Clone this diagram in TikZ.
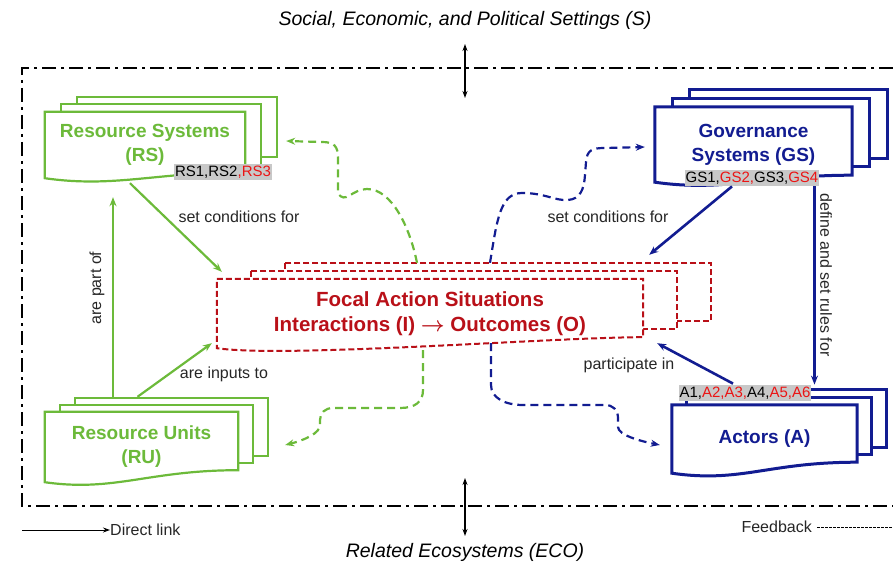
\documentclass[tikz,border=0pt]{standalone}
\usepackage{fontspec}
\setmainfont{Liberation Sans}
\usetikzlibrary{arrows.meta,calc,backgrounds}

\definecolor{sesgreen}{RGB}{108,186,58}
\definecolor{sesblue}{RGB}{18,28,145}
\definecolor{sesred}{RGB}{185,16,24}
\definecolor{tagred}{RGB}{235,20,20}
\definecolor{taggray}{RGB}{200,200,200}

\newcommand{\boxfont}{\fontsize{19}{24}\selectfont\bfseries}
\newcommand{\focalfont}{\fontsize{20.5}{25}\selectfont\bfseries}
\newcommand{\linkfont}{\fontsize{16}{18}\selectfont}
\newcommand{\tagfont}{\fontsize{15}{17}\selectfont}
\newcommand{\setfont}{\fontsize{19.5}{21}\selectfont\itshape}

% stack of three sheets behind a named node: name, style, dx, dy, rise
\newcommand{\docstack}[5]{%
  \begin{pgfonlayer}{background}
    \foreach \i in {2,1}
      \draw[#2] ($(#1.north west)+(\i*#3,-\i*#4)$) rectangle ($(#1.south east)+(\i*#3,-#5-\i*#4)$);
    \draw[#2] (#1.north west) -- (#1.north east) -- ($(#1.south east)+(0,-#5)$)
      .. controls +(-90,0) and +(70,10) .. (#1.south west) -- cycle;
  \end{pgfonlayer}}

\begin{document}
\begin{tikzpicture}[x=1pt, y=-1pt, >={Stealth[length=9pt,width=7pt]},
  every node/.style={inner sep=0pt},
  link/.style={->, line width=2.2pt},
  greenlink/.style={link, draw=sesgreen},
  bluelink/.style={link, draw=sesblue, line width=2.6pt},
  fback/.style={->, line width=2.2pt, dash pattern=on 8pt off 5pt},
  greenstack/.style={draw=sesgreen, line width=2.2pt, fill=white},
  bluestack/.style={draw=sesblue, line width=3pt, fill=white},
  focalstack/.style={draw=sesred, line width=2pt, dash pattern=on 6pt off 3pt, fill=white},
  boxtext/.style={align=center, font=\boxfont},
  tag/.style={fill=taggray, font=\tagfont, inner xsep=1pt, inner ysep=2pt},
  lbl/.style={font=\linkfont, text=black!85},
]
  \useasboundingbox (0,0) rectangle (893,564);

  % outer settings
  \node[font=\setfont] (soc) at (465,20) {Social, Economic, and Political Settings (S)};
  \node[font=\setfont] (eco) at (465,552) {Related Ecosystems (ECO)};
  \coordinate (soctop) at (465,44);
  \coordinate (socbot) at (465,98);
  \coordinate (ecotop) at (465,478);
  \coordinate (ecobot) at (465,536);
  \draw[{Stealth[length=7pt,width=5pt]}-{Stealth[length=7pt,width=5pt]}, line width=1.2pt] (soctop) -- (socbot);
  \draw[{Stealth[length=7pt,width=5pt]}-{Stealth[length=7pt,width=5pt]}, line width=1.2pt] (ecotop) -- (ecobot);
  \draw[line width=2.8pt, dash pattern=on 14pt off 5pt on 3pt off 5pt] (893,68) -| (22,506) -- (893,506);

  % sheets
  \node[boxtext, text=sesgreen, minimum width=200pt, minimum height=66pt] (rs) at (145,145) {Resource Systems\\(RS)};
  \node[boxtext, text=sesblue, minimum width=197pt, minimum height=75pt] (gs) at (753.5,144.5) {Governance\\Systems (GS)};
  \node[boxtext, text=sesgreen, minimum width=193pt, minimum height=70pt] (ru) at (141.5,447) {Resource Units\\(RU)};
  \node[boxtext, text=sesblue, minimum width=185pt, minimum height=68pt] (act) at (764.5,439) {Actors (A)};
  \node[boxtext, font=\focalfont, text=sesred, minimum width=426pt, minimum height=69pt] (focal) at (430,313.5) {Focal Action Situations\\Interactions (I) {\boldmath$\rightarrow$} Outcomes (O)};

  \docstack{rs}{greenstack}{16}{7.5}{6}
  \docstack{gs}{bluestack}{17.5}{8.5}{7}
  \docstack{ru}{greenstack}{15}{7}{12}
  \docstack{act}{bluestack}{14.5}{7.5}{11}
  \docstack{focal}{focalstack}{34}{8}{11}

  % variables
  \node[tag] (rstag) at (223,172) {RS1,RS2\textcolor{tagred}{,RS3}};
  \node[tag] (gstag) at (752,178) {GS1,\textcolor{tagred}{GS2,}GS3,\textcolor{tagred}{GS4}};
  \node[tag] (atag) at (745,393) {A1,\textcolor{tagred}{A2,A3,}A4,\textcolor{tagred}{A5,A6}};

  % direct links
  \coordinate (gsdown) at ($(gstag.south east)+(-5,0)$);
  \draw[greenlink] ($(rs.south)+(-15,5)$) -- ($(focal.north west)+(5,-7)$);
  \draw[greenlink] ($(ru.north)+(-28.5,-15)$) -- ($(rs.south)+(-32,19)$);
  \draw[greenlink] ($(ru.north)+(-4,-15)$) -- ($(focal.south west)+(-5,-5)$);
  \draw[bluelink] ($(gstag.south)+(-20,0)$) -- ($(focal.north east)+(6,-24)$);
  \draw[bluelink] (gsdown) -- (gsdown |- atag.north);
  \draw[bluelink] ($(atag.north)+(-12,-1)$) -- ($(focal.south east)+(14,-5)$);

  \node[lbl] (rscond) at (239,217) {set conditions for};
  \node[lbl, rotate=90] (partof) at (97,288) {are  part of};
  \node[lbl] (inputs) at (224,374) {are inputs to};
  \node[lbl] (gscond) at (608,217) {set conditions for};
  \node[lbl, rotate=-90] (rules) at (826,275) {define and set rules for};
  \node[lbl] (partin) at (629,365) {participate in};

  % feedback
  \draw[fback, draw=sesgreen] ($(focal.north)+(-13,-16)$) .. controls (410,228) and (392,189) .. (367,189)
    .. controls (352,189) and (345,205) .. (338,193) -- (338,158)
    .. controls (338,146) and (334,142) .. (322,142) -- ($(rs.east)+(41,-4)$);
  \draw[fback, draw=sesblue] ($(focal.north)+(60,-16)$) .. controls (497,220) and (500,193) .. (522,193)
    .. controls (545,193) and (555,201) .. (568,200) .. controls (580,199) and (584,190) .. (585,175)
    -- (586,162) .. controls (587,150) and (592,148) .. (605,148) -- ($(gs.west)+(-10,2.5)$);
  \draw[fback, draw=sesgreen] ($(focal.south)+(-7,2)$) -- (423,390) .. controls (423,402) and (415,408) .. (400,408)
    -- (333,408) .. controls (325,408) and (320,413) .. (320,420) -- (320,425)
    .. controls (320,433) and (305,440) .. ($(ru.east)+(47,-2)$);
  \draw[fback, draw=sesblue] ($(focal.south)+(61,-5)$) -- (491,385) .. controls (491,398) and (505,405) .. (523,405)
    -- (605,405) .. controls (613,405) and (618,410) .. (618,418) -- (618,427)
    .. controls (618,435) and (640,441) .. ($(act.west)+(-12,6)$);

  % legend
  \coordinate (directstart) at (22,530);
  \coordinate (feedbackend) at (893,527);
  \node[lbl, anchor=west] (direct) at (110,530) {Direct link};
  \node[lbl, anchor=east] (feedback) at (812,527) {Feedback};
  \draw[-{Stealth[length=7pt,width=5pt]}, line width=1pt] (directstart) -- (direct.west);
  \draw[line width=0.8pt, dash pattern=on 2.5pt off 1.5pt] ([xshift=5pt]feedback.east) -- (feedbackend);
\end{tikzpicture}
\end{document}
